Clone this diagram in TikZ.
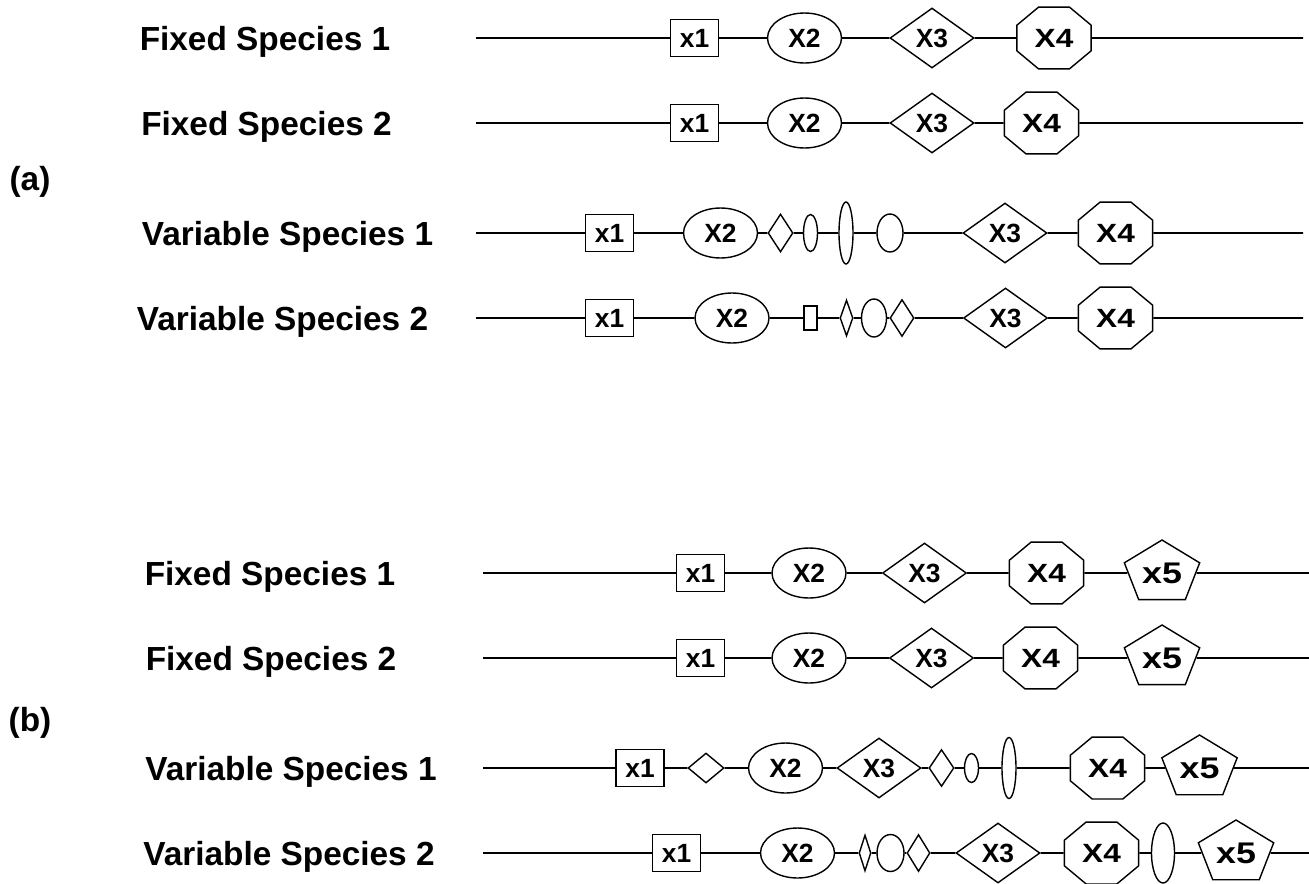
\documentclass[tikz,border=0pt]{standalone}
\usepackage{fontspec}
\setmainfont{Liberation Sans}
\usetikzlibrary{shapes.geometric}

\begin{document}
\begin{tikzpicture}[x=0.02cm, y=-0.02cm, line width=1pt]
        \tikzstyle{gene}=[draw, line width=0.8pt, fill=white, inner sep=0pt, font=\bfseries\fontsize{15}{15}\selectfont]
        \tikzstyle{box gene}=[gene, rectangle, minimum width=0.96cm, minimum height=0.74cm]
        \tikzstyle{oval gene}=[gene, ellipse, minimum width=1.48cm, minimum height=1cm]
        \tikzstyle{diamond gene}=[gene, diamond, minimum width=1.68cm, minimum height=1.2cm]
        \tikzstyle{octagon gene}=[gene, regular polygon, regular polygon sides=8, minimum size=1.34cm, xscale=1.2]
        \tikzstyle{pentagon gene}=[gene, regular polygon, regular polygon sides=5, minimum size=1.32cm, xscale=1.2, font=\bfseries\fontsize{17}{17}\selectfont]
        \tikzstyle{spacer}=[draw, line width=0.8pt, fill=white, inner sep=0pt]
        \tikzstyle{species}=[anchor=base, font=\bfseries\fontsize{19}{19}\selectfont]

        \useasboundingbox (0,0) rectangle (1309,883);

        % Panel labels
        \node[species] (pa) at (30,190) {(a)};
        \node[species] (pb) at (30,731) {(b)};

        % Species names
        \foreach \name/\x/\y/\txt in {A1/265/50/Fixed Species 1, A2/266.5/135/Fixed Species 2,
            A3/287.5/245/Variable Species 1, A4/282.5/330/Variable Species 2,
            B1/270/585/Fixed Species 1, B2/271/670/Fixed Species 2,
            B3/291/780/Variable Species 1, B4/289/865/Variable Species 2}
        \node[species] (\name-lab) at (\x,\y) {\txt};

        % Line ends
        \foreach \name/\y in {A1/38,A2/123,A3/233,A4/318}
        {
            \coordinate (\name-s) at (476,\y);
            \coordinate (\name-e) at (1303,\y);
        }
        \foreach \name/\y in {B1/573,B2/658,B3/768,B4/853}
        {
            \coordinate (\name-s) at (483,\y);
            \coordinate (\name-e) at (1309,\y);
        }

        % (a) fixed species
        \node[box gene] (A1-1) at (694.5,38) {x1};
        \node[oval gene] (A1-2) at (804.5,38) {X2};
        \node[diamond gene] (A1-3) at (932,38) {X3};
        \node[octagon gene] (A1-4) at (1054,38) {X4};
        \draw (A1-s) -- (A1-1) -- (A1-2) -- (A1-3) -- (A1-4) -- (A1-e);

        \node[box gene] (A2-1) at (694.5,123) {x1};
        \node[oval gene] (A2-2) at (804.5,123) {X2};
        \node[diamond gene] (A2-3) at (932,123) {X3};
        \node[octagon gene] (A2-4) at (1041.5,123) {X4};
        \draw (A2-s) -- (A2-1) -- (A2-2) -- (A2-3) -- (A2-4) -- (A2-e);

        % (a) variable species
        \node[box gene] (A3-1) at (609.5,233) {x1};
        \node[oval gene] (A3-2) at (720.5,233) {X2};
        \node[spacer, diamond, minimum width=0.5cm, minimum height=0.76cm] (A3-i1) at (780.5,233) {};
        \node[spacer, ellipse, minimum width=0.28cm, minimum height=0.74cm] (A3-i2) at (810.5,233) {};
        \node[spacer, ellipse, minimum width=0.28cm, minimum height=1.24cm] (A3-i3) at (846,233) {};
        \node[spacer, ellipse, minimum width=0.52cm, minimum height=0.76cm] (A3-i4) at (890,233) {};
        \node[diamond gene] (A3-3) at (1005,233) {X3};
        \node[octagon gene] (A3-4) at (1115.5,233) {X4};
        \draw (A3-s) -- (A3-1) -- (A3-2) -- (A3-i1) -- (A3-i2) -- (A3-i3) -- (A3-i4) -- (A3-3) -- (A3-4) -- (A3-e);

        \node[box gene] (A4-1) at (609.5,318) {x1};
        \node[oval gene] (A4-2) at (732,318) {X2};
        \node[spacer, rectangle, minimum width=0.26cm, minimum height=0.48cm] (A4-i1) at (810.5,318) {};
        \node[spacer, diamond, minimum width=0.26cm, minimum height=0.72cm] (A4-i2) at (846.5,318) {};
        \node[spacer, ellipse, minimum width=0.5cm, minimum height=0.76cm] (A4-i3) at (874,318) {};
        \node[spacer, diamond, minimum width=0.48cm, minimum height=0.74cm] (A4-i4) at (902,318) {};
        \node[diamond gene] (A4-3) at (1005.5,318) {X3};
        \node[octagon gene] (A4-4) at (1115.5,318) {X4};
        \draw (A4-s) -- (A4-1) -- (A4-2) -- (A4-i1) -- (A4-i2) -- (A4-i3) -- (A4-i4) -- (A4-3) -- (A4-4) -- (A4-e);

        % (b) fixed species
        \node[box gene] (B1-1) at (700.5,573) {x1};
        \node[oval gene] (B1-2) at (809,573) {X2};
        \node[diamond gene] (B1-3) at (924.5,573) {X3};
        \node[octagon gene] (B1-4) at (1046.5,573) {X4};
        \node[pentagon gene] (B1-5) at (1162,573) {\raisebox{-6pt}{x5}};
        \draw (B1-s) -- (B1-1) -- (B1-2) -- (B1-3) -- (B1-4) -- (B1-5) -- (B1-e);

        \node[box gene] (B2-1) at (700.5,658) {x1};
        \node[oval gene] (B2-2) at (809,658) {X2};
        \node[diamond gene] (B2-3) at (931.5,658) {X3};
        \node[octagon gene] (B2-4) at (1040.5,658) {X4};
        \node[pentagon gene] (B2-5) at (1162,658) {\raisebox{-6pt}{x5}};
        \draw (B2-s) -- (B2-1) -- (B2-2) -- (B2-3) -- (B2-4) -- (B2-5) -- (B2-e);

        % (b) variable species
        \node[box gene] (B3-1) at (640,768) {x1};
        \node[spacer, diamond, minimum width=0.72cm, minimum height=0.6cm] (B3-i1) at (706,768) {};
        \node[oval gene] (B3-2) at (785.5,768) {X2};
        \node[diamond gene] (B3-3) at (879,768) {X3};
        \node[spacer, diamond, minimum width=0.5cm, minimum height=0.74cm] (B3-i2) at (941.5,768) {};
        \node[spacer, ellipse, minimum width=0.28cm, minimum height=0.58cm] (B3-i3) at (971.5,768) {};
        \node[spacer, ellipse, minimum width=0.28cm, minimum height=1.22cm] (B3-i4) at (1009,768) {};
        \node[octagon gene] (B3-4) at (1107.5,768) {X4};
        \node[pentagon gene] (B3-5) at (1199.5,768) {\raisebox{-6pt}{x5}};
        \draw (B3-s) -- (B3-1) -- (B3-i1) -- (B3-2) -- (B3-3) -- (B3-i2) -- (B3-i3) -- (B3-i4) -- (B3-4) -- (B3-5) -- (B3-e);

        \node[box gene] (B4-1) at (676.5,853) {x1};
        \node[oval gene] (B4-2) at (797.5,853) {X2};
        \node[spacer, diamond, minimum width=0.24cm, minimum height=0.72cm] (B4-i1) at (865,853) {};
        \node[spacer, ellipse, minimum width=0.54cm, minimum height=0.74cm] (B4-i2) at (890.5,853) {};
        \node[spacer, diamond, minimum width=0.46cm, minimum height=0.74cm] (B4-i3) at (918.5,853) {};
        \node[diamond gene] (B4-3) at (998,853) {X3};
        \node[octagon gene] (B4-4) at (1101.5,853) {X4};
        \node[spacer, ellipse, minimum width=0.46cm, minimum height=1.2cm] (B4-i4) at (1163,853) {};
        \node[pentagon gene] (B4-5) at (1236,853) {\raisebox{-6pt}{x5}};
        \draw (B4-s) -- (B4-1) -- (B4-2) -- (B4-i1) -- (B4-i2) -- (B4-i3) -- (B4-3) -- (B4-4) -- (B4-i4) -- (B4-5) -- (B4-e);
\end{tikzpicture}
\end{document}
